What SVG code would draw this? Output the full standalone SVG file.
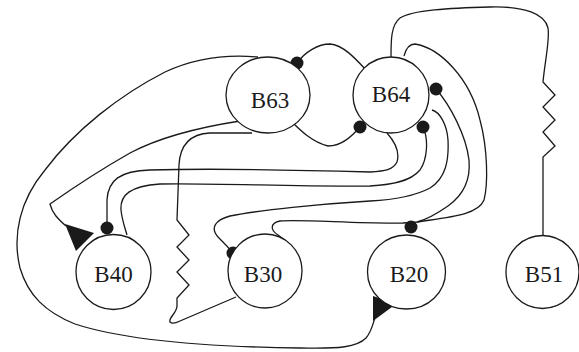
<svg xmlns="http://www.w3.org/2000/svg" width="579" height="352" viewBox="0 0 579 352">
<style>
.node{fill:#fff;stroke:#1a1a1a;stroke-width:1.3}
.lbl{font-family:"Liberation Serif","Times New Roman",serif;font-size:23px;fill:#1a1a1a;text-anchor:middle}
.edge{fill:none;stroke:#1a1a1a;stroke-width:1.3}
.dot{fill:#1a1a1a}
.arrow{fill:#1a1a1a}
</style>
<rect width="579" height="352" fill="#fff"/>
<g id="connectors">
  <!-- B63 -> B20 (excitatory, outer loop) -->
  <path class="edge" d="M258,57 C225,54 195,58 165,72 C120,95 75,130 45,170 C20,200 12,235 20,268 C28,295 45,312 75,324 C130,342 220,347 300,348 C340,349 357,347 366,338 C373,330 374,318 377,312"/>
  <polygon class="arrow" points="373,296 396,304 373,321"/>
  <!-- B63 -> B40 (excitatory) -->
  <path class="edge" d="M240,121 C195,128 160,137 130,153 C100,170 70,190 50,204 C52,213 58,219 66,226"/>
  <polygon class="arrow" points="65,224 94,233 76,251"/>
  <!-- B63 - B30 gap junction -->
  <path class="edge" d="M252,133 L210,133 C190,134 180,145 179,165 L177,220 L189,235 L177,247 L189,260 L177,272 L189,285 L177,298 L177,306 C177,313 168,318 170,322 C172,324 176,323 180,321 L236,297"/>
  <!-- B64 - B51 gap junction -->
  <path class="edge" d="M391,57 C391,40 391,25 400,18 C412,10 450,8 490,7 C525,6 545,14 548,28 C550,40 545,60 543,82 L555,95 L543,107 L555,120 L543,132 L555,146 L543,157 L543,235"/>
  <!-- B64 -| B63 -->
  <path class="edge" d="M297,63 C305,52 318,44 330,44 C343,45 355,58 366,70"/>
  <circle class="dot" cx="297" cy="63" r="6.5"/>
  <!-- B63 -| B64 -->
  <path class="edge" d="M292,122 C300,130 312,142 328,146 C342,146 352,136 360,127"/>
  <circle class="dot" cx="360" cy="127" r="6.5"/>
  <!-- B64 -| B20 -->
  <path class="edge" d="M404,56 C406,48 410,44 415,44 C440,48 470,78 480,120 C488,150 488,185 484,200 C478,215 450,217 417,222"/>
  <circle class="dot" cx="411" cy="227" r="6.5"/>
  <!-- B30 -| B64 -->
  <path class="edge" d="M436,89 C450,105 466,135 469,160 C471,182 462,196 448,206 C438,213 428,219 417,222 L403,223 C360,224 300,219 280,221 C270,223 270,230 278,235 C282,238 286,241 290,245"/>
  <circle class="dot" cx="436" cy="89" r="6.5"/>
  <!-- B64 -| B30 -->
  <path class="edge" d="M432,110 C440,112 447,125 448,140 C449,160 446,178 430,188 C415,196 390,200 370,201 C320,204 260,210 230,216 C215,220 210,228 218,237 C224,243 229,248 233,253"/>
  <circle class="dot" cx="233" cy="253" r="6.5"/>
  <!-- B40 -| B64 -->
  <path class="edge" d="M423,127 C429,140 427,160 420,170 C410,182 390,185 370,186 C300,187 220,183 160,184 C130,186 120,195 121,210 C122,220 125,228 127,235"/>
  <circle class="dot" cx="423" cy="127" r="6.5"/>
  <!-- B64 -| B40 -->
  <path class="edge" d="M387,133 C395,142 400,152 397,162 C393,170 385,171 370,172 C300,170 220,168 150,170 C120,171 108,180 107,200 L107,228"/>
  <circle class="dot" cx="107" cy="228" r="6.5"/>
</g>
<g id="B63"><ellipse class="node" cx="268" cy="95" rx="42" ry="38"/><text class="lbl" x="270" y="108">B63</text></g>
<g id="B64"><circle class="node" cx="391" cy="95" r="38"/><text class="lbl" x="391" y="102">B64</text></g>
<g id="B40"><circle class="node" cx="113.5" cy="272" r="37.5"/><text class="lbl" x="113.5" y="282">B40</text></g>
<g id="B30"><circle class="node" cx="265" cy="271" r="37"/><text class="lbl" x="263" y="282">B30</text></g>
<g id="B20"><ellipse class="node" cx="406.5" cy="272" rx="39" ry="37"/><text class="lbl" x="409" y="282">B20</text></g>
<g id="B51"><circle class="node" cx="542.5" cy="272" r="36.5"/><text class="lbl" x="544" y="282">B51</text></g>
</svg>
